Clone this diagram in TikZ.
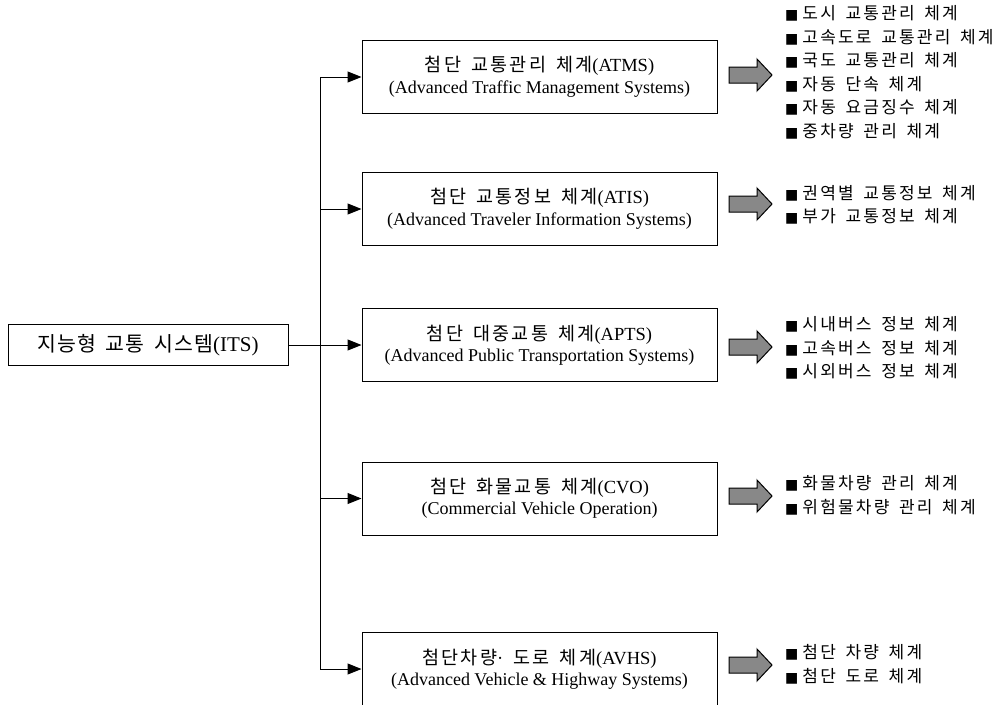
\documentclass[tikz,border=0pt]{standalone}
\usepackage{fontspec}
\setmainfont{Liberation Serif}
\newfontfamily\krbox[LetterSpace=12,WordSpace=1.6]{Noto Sans CJK KR}
\newfontfamily\krlist[LetterSpace=13,WordSpace=1.6]{Noto Sans CJK KR}
\newfontfamily\krroot[LetterSpace=6,WordSpace=1.6]{Noto Sans CJK KR}
\newfontfamily\dejavu{DejaVu Sans}
\usetikzlibrary{arrows.meta}
\newcommand\bul{{\dejavu\fontsize{14}{14}\selectfont ■}\hspace{4pt}}
\definecolor{arrowgray}{RGB}{136,136,136}
\tikzset{
  sysbox/.style={draw, line width=1pt, minimum width=355pt, minimum height=73pt, align=center, inner sep=0pt},
  rootbox/.style={draw, line width=1pt, minimum width=280pt, minimum height=41pt, inner sep=0pt},
  link/.style={line width=1pt, -{Triangle[length=14pt,width=11pt]}},
  trunk/.style={line width=1pt},
  blockarrow/.style={draw, line width=1pt, fill=arrowgray, line join=miter},
  listtext/.style={anchor=west, align=left, inner sep=0pt, font=\krlist\fontsize{17}{23.5}\selectfont},
}
\newcommand\korA[1]{{\krbox\fontsize{18.5}{22}\selectfont #1}}
\newcommand\engA[1]{{\fontsize{18.5}{22}\selectfont #1}}
\newcommand\engB[1]{{\fontsize{18}{22}\selectfont #1}}
\newcommand\garrow[2]{%
  \draw[blockarrow] (#1-21.5,#2-8) -- ++(28,0) -- ++(0,-8) -- ++(15,16) -- ++(-15,16) -- ++(0,-8) -- ++(-28,0) -- cycle;}
\begin{document}
\begin{tikzpicture}[x=1pt,y=-1pt]
\useasboundingbox (0,0) rectangle (1000,704);
\fill[white] (0,0) rectangle (1000,704);

\node[rootbox] (its) at (148,345) {{\krroot\fontsize{20.5}{22}\selectfont 지능형 교통 시스템}{\fontsize{21}{22}\selectfont(ITS)}};

\node[sysbox] (atms) at (539.5,77) {\korA{첨단 교통관리 체계}\engA{(ATMS)}\\[4pt]\engB{(Advanced Traffic Management Systems)}};
\node[sysbox] (atis) at (539.5,209) {\korA{첨단 교통정보 체계}\engA{(ATIS)}\\[4pt]\engB{(Advanced Traveler Information Systems)}};
\node[sysbox] (apts) at (539.5,345) {\korA{첨단 대중교통 체계}\engA{(APTS)}\\[4pt]\engB{(Advanced Public Transportation Systems)}};
\node[sysbox] (cvo) at (539.5,498.5) {\korA{첨단 화물교통 체계}\engA{(CVO)}\\[4pt]\engB{(Commercial Vehicle Operation)}};
\node[sysbox] (avhs) at (539.5,669) {\korA{첨단차량}\engA{·}\korA{ 도로 체계}\engA{(AVHS)}\\[4pt]\engB{(Advanced Vehicle \& Highway Systems)}};

\coordinate (ttop) at (320,77);
\coordinate (tbot) at (320,669);
\draw[trunk] (atms.west -| ttop) -- (avhs.west -| tbot);
\draw[link] (its.east) -- (apts.west);
\draw[link] (atms.west -| ttop) -- (atms.west);
\draw[link] (atis.west -| ttop) -- (atis.west);
\draw[link] (cvo.west -| ttop) -- (cvo.west);
\draw[link] (avhs.west -| ttop) -- (avhs.west);

\garrow{750.5}{75}
\garrow{750.5}{204}
\garrow{750.5}{347}
\garrow{750.5}{496}
\garrow{750.5}{665}

\node[listtext] (l1) at (785,72.5) {\bul 도시 교통관리 체계\\\bul 고속도로 교통관리 체계\\\bul 국도 교통관리 체계\\\bul 자동 단속 체계\\\bul 자동 요금징수 체계\\\bul 중차량 관리 체계};
\node[listtext] (l2) at (785,205) {\bul 권역별 교통정보 체계\\\bul 부가 교통정보 체계};
\node[listtext] (l3) at (785,348) {\bul 시내버스 정보 체계\\\bul 고속버스 정보 체계\\\bul 시외버스 정보 체계};
\node[listtext] (l4) at (785,495.5) {\bul 화물차량 관리 체계\\\bul 위험물차량 관리 체계};
\node[listtext] (l5) at (785,664.5) {\bul 첨단 차량 체계\\\bul 첨단 도로 체계};
\end{tikzpicture}
\end{document}
